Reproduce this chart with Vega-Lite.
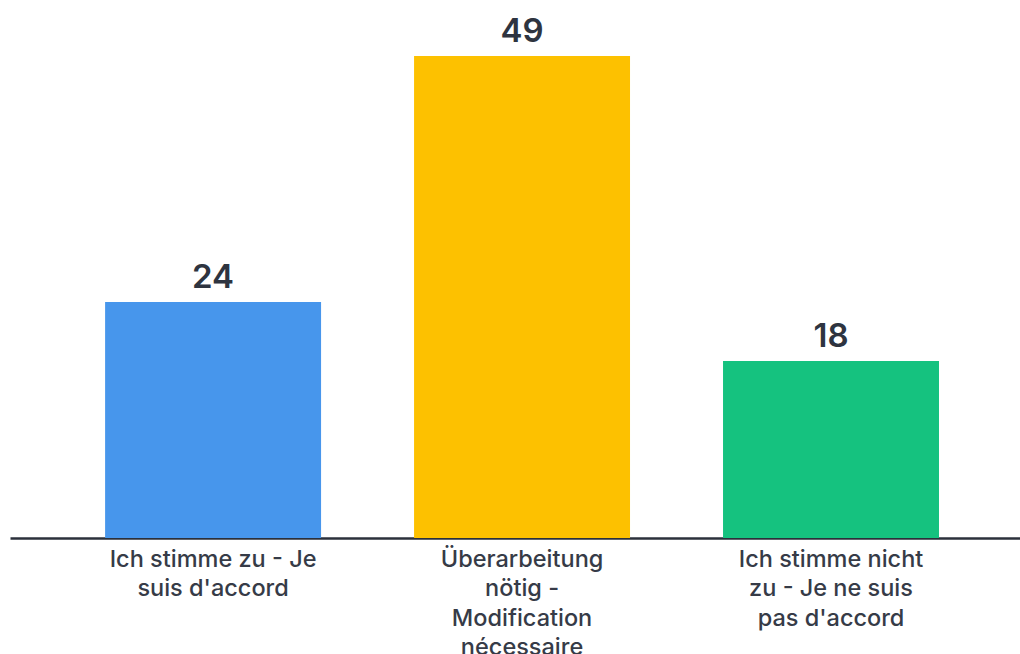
{
  "$schema": "https://vega.github.io/schema/vega-lite/v6.json",
  "autosize": "none",
  "width": 1010,
  "height": 538,
  "padding": {"left": 10, "top": 0, "right": 0, "bottom": 116},
  "background": "#ffffff",
  "config": {
    "view": {"stroke": null},
    "font": "Inter"
  },
  "data": {
    "values": [
      {"antwort": "Ich stimme zu - Je\nsuis d'accord", "wert": 24, "farbe": "#4796ec"},
      {"antwort": "Überarbeitung\nnötig -\nModification\nnécessaire", "wert": 49, "farbe": "#fdc100"},
      {"antwort": "Ich stimme nicht\nzu - Je ne suis\npas d'accord", "wert": 18, "farbe": "#15c27f"}
    ]
  },
  "encoding": {
    "x": {
      "field": "antwort",
      "type": "nominal",
      "sort": null,
      "scale": {"paddingInner": 0.301, "paddingOuter": 0.285, "align": 0.54},
      "axis": {
        "title": null,
        "labelAngle": 0,
        "labelExpr": "split(datum.value, '\\n')",
        "labelFont": "Inter",
        "labelFontSize": 23.5,
        "labelFontWeight": 500,
        "labelColor": "#363b47",
        "labelLineHeight": 29.5,
        "labelPadding": 9,
        "labelLimit": 400,
        "ticks": false,
        "domainColor": "#2b303b",
        "domainWidth": 2.5
      }
    },
    "y": {
      "field": "wert",
      "type": "quantitative",
      "scale": {"domain": [0, 54.7], "nice": false},
      "axis": null
    }
  },
  "layer": [
    {
      "mark": {"type": "bar"},
      "encoding": {
        "color": {"field": "farbe", "type": "nominal", "scale": null, "legend": null}
      }
    },
    {
      "mark": {
        "type": "text",
        "baseline": "alphabetic",
        "dy": -14,
        "font": "Inter",
        "fontSize": 33,
        "fontWeight": 600,
        "color": "#2e3440"
      },
      "encoding": {
        "text": {"field": "wert", "type": "quantitative"}
      }
    }
  ]
}
